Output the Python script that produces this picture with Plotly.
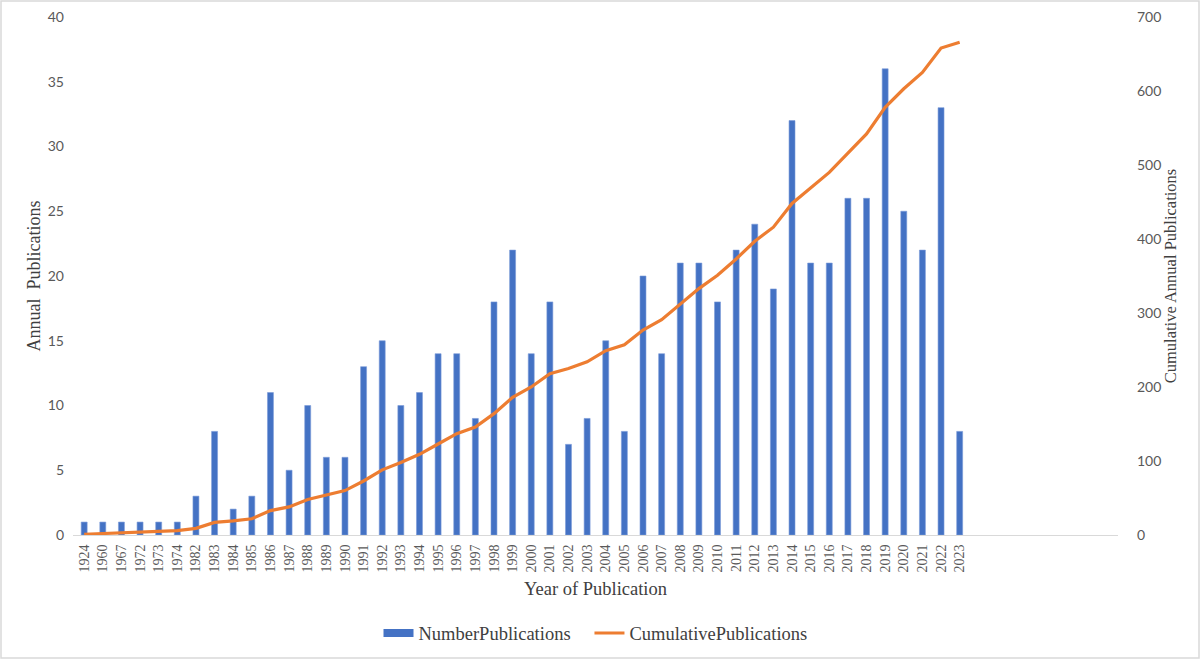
import plotly.graph_objects as go

years = ['1924', '1960', '1967', '1972', '1973', '1974', '1982', '1983', '1984', '1985',
         '1986', '1987', '1988', '1989', '1990', '1991', '1992', '1993', '1994', '1995',
         '1996', '1997', '1998', '1999', '2000', '2001', '2002', '2003', '2004', '2005',
         '2006', '2007', '2008', '2009', '2010', '2011', '2012', '2013', '2014', '2015',
         '2016', '2017', '2018', '2019', '2020', '2021', '2022', '2023']

number_publications = [1, 1, 1, 1, 1, 1, 3, 8, 2, 3,
                       11, 5, 10, 6, 6, 13, 15, 10, 11, 14,
                       14, 9, 18, 22, 14, 18, 7, 9, 15, 8,
                       20, 14, 21, 21, 18, 22, 24, 19, 32, 21,
                       21, 26, 26, 36, 25, 22, 33, 8]

cumulative_publications = [1, 2, 3, 4, 5, 6, 9, 17, 19, 22,
                           33, 38, 48, 54, 60, 73, 88, 98, 109, 123,
                           137, 146, 164, 186, 200, 218, 225, 234, 249, 257,
                           277, 291, 312, 333, 351, 373, 397, 416, 448, 469,
                           490, 516, 542, 578, 603, 625, 658, 666]

left_ticks = [0, 5, 10, 15, 20, 25, 30, 35, 40]
right_ticks = [0, 100, 200, 300, 400, 500, 600, 700]

blue = '#4472C4'
orange = '#ED7D31'
serif = 'Liberation Serif'
tick_font = dict(family='Lato', size=14, color='#595959')


def title_font(size):
    return dict(family=serif, size=size, color='#404040')


fig = go.Figure()
fig.add_trace(go.Bar(
    x=years, y=number_publications, name='NumberPublications',
    marker=dict(color=blue, line=dict(color='#7A9BD8', width=0.6)),
    width=0.32, showlegend=False,
))
fig.add_trace(go.Scatter(
    x=years, y=cumulative_publications, name='CumulativePublications',
    mode='lines', line=dict(color=orange, width=3.2),
    yaxis='y2', showlegend=False,
))
# legend entries drawn as Excel-style wide swatches
fig.add_trace(go.Scatter(
    x=[None], y=[None], name='NumberPublications\u00a0\u00a0\u00a0', mode='lines',
    line=dict(color=blue, width=8),
))
fig.add_trace(go.Scatter(
    x=[None], y=[None], name='CumulativePublications', mode='lines',
    line=dict(color=orange, width=3), yaxis='y2',
))

# plot area in pixels, used to place the outer frame
W, H = 1200, 659
ml, mr, mt, mb = 73, 82, 17, 124
pw, ph = W - ml - mr, H - mt - mb

fig.update_layout(
    width=W, height=H,
    margin=dict(l=ml, r=mr, t=mt, b=mb, autoexpand=False),
    plot_bgcolor='white', paper_bgcolor='white',
    showlegend=True,
    legend=dict(orientation='h', x=0.5, xanchor='center', y=-0.19, yanchor='middle',
                font=title_font(18.5), itemwidth=30, traceorder='normal'),
    xaxis=dict(
        type='category', categoryorder='array', categoryarray=years,
        range=[-0.6, 55.5], tickangle=-90, ticks='', showgrid=False,
        showline=True, linecolor='#D9D9D9', linewidth=1,
        tickfont=dict(family=serif, size=14, color='#595959'),
        ticklabelstandoff=3,
        title=dict(text='Year of Publication', font=title_font(18.5), standoff=10),
    ),
    yaxis=dict(
        range=[0, 40], tickvals=left_ticks, showgrid=False, zeroline=False,
        tickfont=tick_font, ticks='', ticklabelstandoff=8,
        title=dict(text='Annual  Publications', font=title_font(18), standoff=2),
    ),
    yaxis2=dict(
        range=[0, 700], tickvals=right_ticks, overlaying='y', side='right',
        showgrid=False, zeroline=False, tickfont=tick_font, ticks='', ticklabelstandoff=18,
        title=dict(text='Cumulative Annual Publications', font=title_font(16.5), standoff=0),
    ),
    shapes=[dict(
        type='rect', xref='paper', yref='paper', layer='above',
        x0=(-ml + 1) / pw, x1=(pw + mr - 1) / pw,
        y0=(-mb + 1) / ph, y1=(ph + mt - 1) / ph,
        line=dict(color='#D9D9D9', width=1.5),
    )],
)

# drop the browser's default page margin so the figure sits at the window corner
fig.write_html('out.html', config={'displayModeBar': False},
               post_script="document.body.style.margin='0';")
